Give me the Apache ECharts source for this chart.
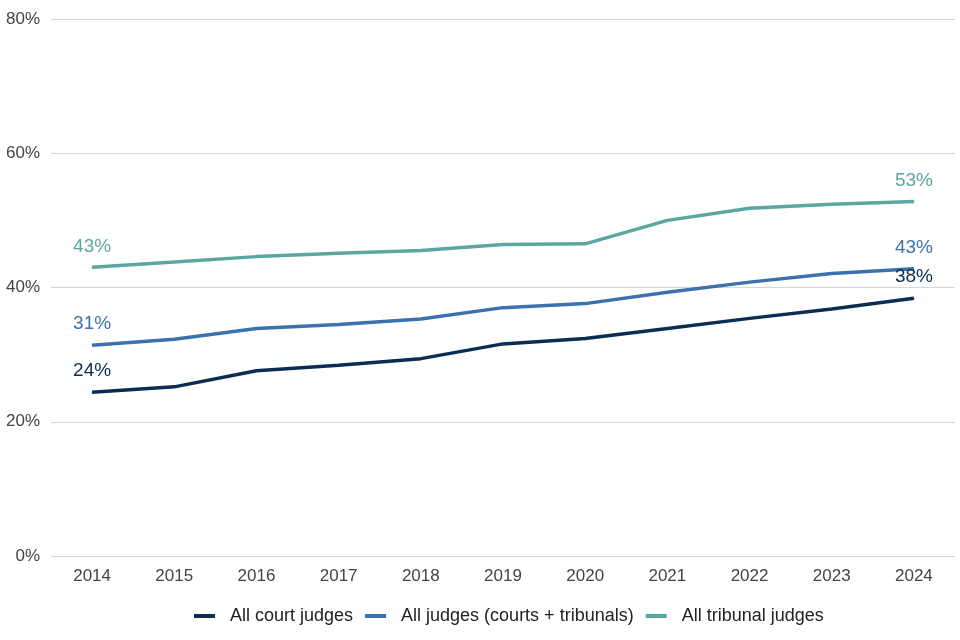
<!DOCTYPE html>
<html><head><meta charset="utf-8">
<script src="https://cdn.jsdelivr.net/npm/echarts@6/dist/echarts.min.js"></script>
<style>html,body{margin:0;padding:0;background:#fff}#c{width:960px;height:640px}</style>
</head><body><div id="c"></div>
<script>
const years = ['2014','2015','2016','2017','2018','2019','2020','2021','2022','2023','2024'];
const courtJudges = [24.4, 25.2, 27.6, 28.4, 29.4, 31.6, 32.4, 33.9, 35.4, 36.8, 38.4];
const allJudges = [31.4, 32.3, 33.9, 34.5, 35.3, 37.0, 37.6, 39.3, 40.8, 42.1, 42.8];
const tribunalJudges = [43.0, 43.8, 44.6, 45.1, 45.5, 46.4, 46.5, 50.0, 51.8, 52.4, 52.8];
const seriesNames = ['All court judges', 'All judges (courts + tribunals)', 'All tribunal judges'];
const colors = ['#0b2d52', '#3b72ae', '#5aa7a2'];
const font = 'Liberation Sans, Arial, sans-serif';

function mk(name, data, color) {
  return {
    name, type: 'line', data, color,
    symbol: 'circle', symbolSize: 1, showSymbol: true, showAllSymbol: true,
    itemStyle: { color },
    lineStyle: { width: 3.5, color },
    label: {
      show: true, position: 'top', distance: 11,
      fontFamily: font, fontSize: 19, color,
      formatter: p => (p.dataIndex === 0 || p.dataIndex === data.length - 1) ? Math.round(p.value) + '%' : ''
    },
    labelLayout: { hideOverlap: false },
    emphasis: { disabled: true }
  };
}
const chart = echarts.init(document.getElementById('c'));
chart.setOption({
  animation: false,
  grid: { left: 51, right: 5, top: 19, bottom: 84, containLabel: false },
  legend: {
    bottom: 10, left: 189, icon: 'rect', itemWidth: 21, itemHeight: 4, itemGap: 12,
    textStyle: { fontFamily: font, fontSize: 18, color: '#222', padding: [0, 0, 0, 10] },
    data: seriesNames
  },
  xAxis: {
    type: 'category', data: years, boundaryGap: true,
    axisLine: { show: false }, axisTick: { show: false },
    axisLabel: { fontFamily: font, fontSize: 17, color: '#444', margin: 12 }
  },
  yAxis: {
    type: 'value', min: 0, max: 80, interval: 20,
    axisLine: { show: false }, axisTick: { show: false },
    splitLine: { lineStyle: { color: '#d6d6d6', width: 1 } },
    axisLabel: { fontFamily: font, fontSize: 17, color: '#444', formatter: '{value}%', margin: 11 }
  },
  series: [
    mk(seriesNames[0], courtJudges, colors[0]),
    mk(seriesNames[1], allJudges, colors[1]),
    mk(seriesNames[2], tribunalJudges, colors[2])
  ]
});
</script></body></html>
